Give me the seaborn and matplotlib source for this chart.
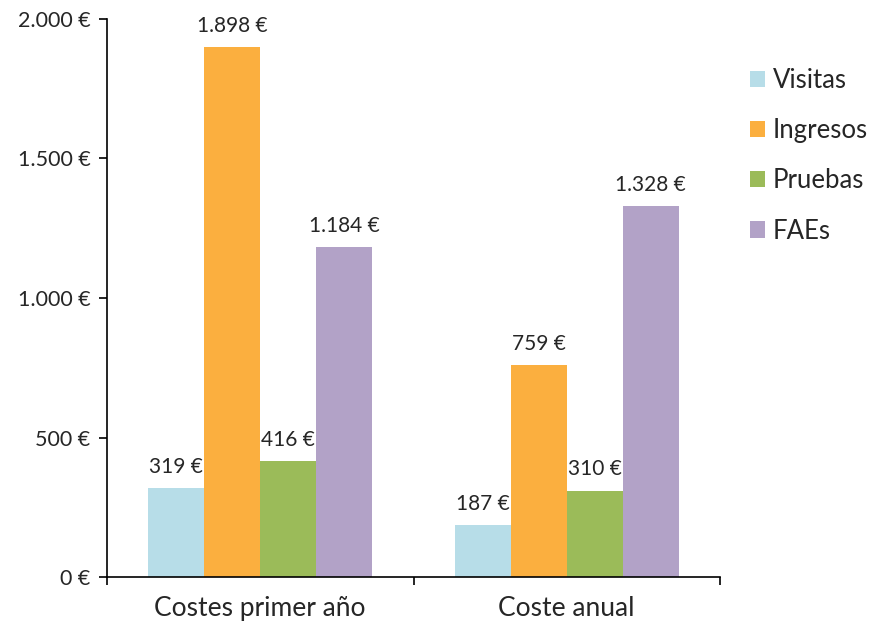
import matplotlib
matplotlib.use("Agg")
import matplotlib.pyplot as plt
from matplotlib.ticker import FuncFormatter, FixedLocator
from matplotlib.patches import Patch
import seaborn as sns
import pandas as pd

categorias = ["Costes primer año", "Coste anual"]
series = ["Visitas", "Ingresos", "Pruebas", "FAEs"]
visitas = [319, 187]
ingresos = [1898, 759]
pruebas = [416, 310]
faes = [1184, 1328]
colores = ["#B7DDE8", "#FBAF3F", "#9BBB59", "#B2A2C7"]
y_ticks = [0, 500, 1000, 1500, 2000]

valores = {"Visitas": visitas, "Ingresos": ingresos, "Pruebas": pruebas, "FAEs": faes}
rows = []
for s in series:
    for c, v in zip(categorias, valores[s]):
        rows.append({"categoria": c, "serie": s, "coste": v})
df = pd.DataFrame(rows)

sns.set_style("white")
plt.rcParams["font.family"] = ["Lato", "DejaVu Sans"]

def euro(v):
    return f"{v:,.0f} €".replace(",", ".")

fig = plt.figure(figsize=(8.78, 6.30), dpi=100)
ax = fig.add_axes([107 / 878, 1 - 577 / 630, (720 - 107) / 878, (577 - 19) / 630])

sns.barplot(data=df, x="categoria", y="coste", hue="serie", order=categorias,
            hue_order=series, palette=colores, width=0.73, gap=0,
            saturation=1, edgecolor="none", linewidth=0, ax=ax, legend=False)

for cont in ax.containers:
    ax.bar_label(cont, labels=[euro(b.get_height()) for b in cont],
                 padding=8, fontsize=15)

ax.set_xlim(-0.5, 1.5)
ax.set_ylim(0, 2000)
ax.set_yticks(y_ticks)
ax.yaxis.set_major_formatter(FuncFormatter(lambda v, p: euro(v)))
ax.tick_params(axis="y", direction="out", length=6, width=1.2, color="black",
               labelsize=15.5, pad=6, left=True)
ax.xaxis.set_minor_locator(FixedLocator([-0.5, 0.5, 1.5]))
ax.tick_params(axis="x", which="major", length=0, labelsize=19, pad=14)
ax.tick_params(axis="x", which="minor", direction="out", length=6, width=1.2,
               color="black", bottom=True)
ax.set_xlabel("")
ax.set_ylabel("")

for side in ["top", "right"]:
    ax.spines[side].set_visible(False)
for side in ["left", "bottom"]:
    ax.spines[side].set_color("black")
    ax.spines[side].set_linewidth(1.2)

handles = [Patch(facecolor=c, edgecolor="none") for c in colores]
fig.legend(handles, series, loc="upper left", bbox_to_anchor=(750 / 878, 1 - 68 / 630),
           frameon=False, fontsize=18.5, handlelength=0.6, handleheight=0.6,
           handletextpad=0.3, labelspacing=0.98, borderaxespad=0, borderpad=0)

fig.savefig("out.png", dpi=100, facecolor="white")
